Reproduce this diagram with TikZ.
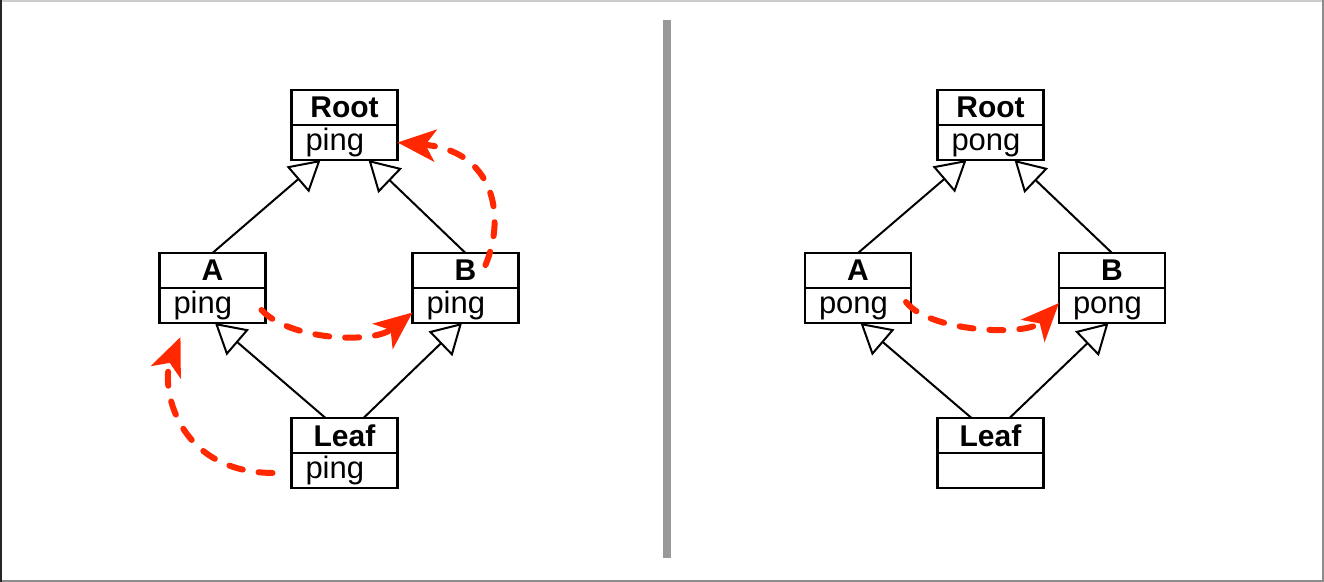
\documentclass[tikz,border=0pt]{standalone}
\usepackage{fontspec}
\setmainfont{Liberation Sans}
\usetikzlibrary{arrows.meta, positioning}
\definecolor{callred}{RGB}{255,40,0}

\begin{document}
\begin{tikzpicture}[x=0.5pt, y=-0.5pt,
      cls/.style={rectangle, draw, line width=1.1pt, outer sep=0pt, inner sep=0pt, minimum width=53pt, minimum height=17.5pt, font=\bfseries\fontsize{15}{15}\selectfont},
      meth/.style={rectangle, draw, line width=1.1pt, outer sep=0pt, inner xsep=7pt, inner ysep=0pt, text width=39pt, minimum height=17.5pt, text height=11.5pt, text depth=3pt, align=left, font=\fontsize{15.5}{15.5}\selectfont},
      inherit/.style={-{Triangle[open, length=15pt, width=17pt]}, line width=1pt},
      call/.style={-{Stealth[length=19pt, width=16pt, inset=5pt]}, line width=3pt, draw=callred, dash pattern=on 7pt off 8pt, line cap=round}
    ]
    \useasboundingbox (0,0) rectangle (1324,582);

    % frame and divider
    \draw[gray!40, line width=1pt] (0,1) -- (1324,1);
    \draw[gray!90, line width=1pt] (1323,0) -- (1323,582);
    \draw[gray!90, line width=1pt] (0,581) -- (1324,581);
    \draw[black!85, line width=1pt] (1,0) -- (1,582);
    \draw[gray!80, line width=4pt] (667,20) -- (667,558);

    % left: every class has ping
    \node[cls] (rootL) at (344.5,107.5) {Root};
    \node[meth, below=0pt of rootL] (rootLm) {ping};
    \node[cls] (aL) at (212.5,270.5) {A};
    \node[meth, below=0pt of aL] (aLm) {ping};
    \node[cls] (bL) at (465.5,270.5) {B};
    \node[meth, below=0pt of bL] (bLm) {ping};
    \node[cls] (leafL) at (344.5,435.5) {Leaf};
    \node[meth, below=0pt of leafL] (leafLm) {ping};

    \draw[inherit] (aL.north) -- ([xshift=-12pt]rootLm.south);
    \draw[inherit] (bL.north) -- ([xshift=12pt]rootLm.south);
    \draw[inherit] ([xshift=-9.5pt]leafL.north) -- ([xshift=1.25pt]aLm.south);
    \draw[inherit] ([xshift=9.5pt]leafL.north) -- ([xshift=-1.75pt]bLm.south);

    \draw[call] ([shift={(-9.5pt,-1.25pt)}]leafLm.west) .. controls +(-97,-1) and +(-20,48) .. ([shift={(10.5pt,-7pt)}]aLm.south west);
    \draw[call] ([shift={(-2pt,-2.25pt)}]aLm.east) .. controls +(28,30) and +(-40,32) .. ([yshift=-3.5pt]bLm.west);
    \draw[call] ([shift={(10pt,-6pt)}]bL.north) .. controls +(21,-50) and +(96,8) .. (rootLm.east);

    % right: pong only
    \node[cls] (rootR) at (990.5,107.5) {Root};
    \node[meth, below=0pt of rootR] (rootRm) {pong};
    \node[cls] (aR) at (858,270.5) {A};
    \node[meth, below=0pt of aR] (aRm) {pong};
    \node[cls] (bR) at (1112,270.5) {B};
    \node[meth, below=0pt of bR] (bRm) {pong};
    \node[cls] (leafR) at (990.5,435.5) {Leaf};
    \node[meth, below=0pt of leafR] (leafRm) {};

    \draw[inherit] (aR.north) -- ([xshift=-12pt]rootRm.south);
    \draw[inherit] (bR.north) -- ([xshift=12pt]rootRm.south);
    \draw[inherit] ([xshift=-9.5pt]leafR.north) -- ([xshift=1.25pt]aRm.south);
    \draw[inherit] ([xshift=9.5pt]leafR.north) -- ([xshift=-1.75pt]bRm.south);

    \draw[call] ([shift={(-2.5pt,1.75pt)}]aRm.east) .. controls +(23,30) and +(-32,34) .. ([yshift=1.25pt]bRm.west);

\end{tikzpicture}
\end{document}
